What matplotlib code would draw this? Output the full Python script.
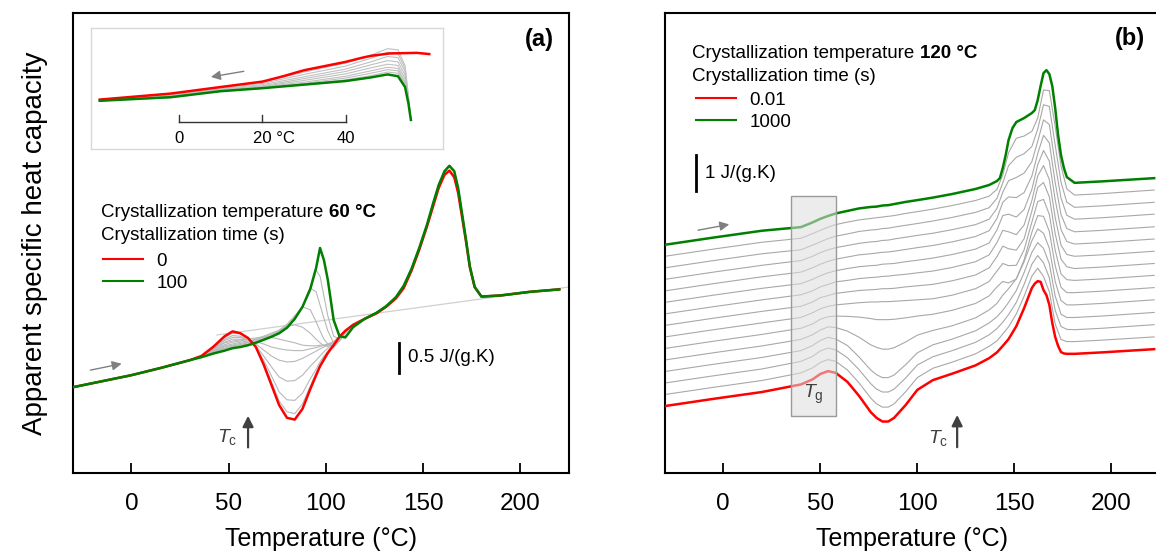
import matplotlib
matplotlib.use('Agg')
from matplotlib import pyplot as plt
from matplotlib.lines import Line2D
from matplotlib.patches import Rectangle

plt.rcParams['font.family'] = ['Liberation Sans', 'DejaVu Sans']
plt.rcParams['mathtext.fontset'] = 'custom'
plt.rcParams['mathtext.rm'] = 'Liberation Sans'
plt.rcParams['mathtext.it'] = 'Liberation Sans:italic'
plt.rcParams['mathtext.bf'] = 'Liberation Sans:bold'

RED = '#ff0000'
GREEN = '#008000'

# ---------------- panel (a): Tc = 60 C, times 0 ... 100 s ----------------
a_T_low = [-30, -15, 0, 15, 30]
a_cp_low = [1.43, 1.53, 1.63, 1.75, 1.88]

a_T_mid = [36, 42, 48, 52, 56, 60, 64, 68, 72, 76, 80, 84, 88, 92, 95, 97, 99, 101, 104, 107, 110, 114]
a_red_mid = [1.95, 2.10, 2.28, 2.36, 2.33, 2.25, 2.10, 1.81, 1.47, 1.13, 0.92, 0.89, 1.07, 1.40, 1.63, 1.78, 1.89, 2.00, 2.13, 2.27, 2.37, 2.47]
a_green_mid = [1.93, 1.99, 2.04, 2.08, 2.10, 2.13, 2.17, 2.22, 2.27, 2.33, 2.42, 2.57, 2.77, 3.07, 3.42, 3.75, 3.55, 3.22, 2.55, 2.28, 2.26, 2.43]
a_grey_mid = [
    [1.95, 2.09, 2.26, 2.33, 2.32, 2.24, 2.10, 1.83, 1.52, 1.20, 1.02, 0.99, 1.15, 1.45, 1.67, 1.80, 1.92, 2.02, 2.14, 2.27, 2.37, 2.47],
    [1.95, 2.08, 2.23, 2.29, 2.28, 2.23, 2.10, 1.88, 1.62, 1.35, 1.22, 1.21, 1.33, 1.57, 1.73, 1.85, 1.95, 2.03, 2.15, 2.27, 2.37, 2.47],
    [1.95, 2.08, 2.21, 2.26, 2.26, 2.22, 2.12, 1.95, 1.77, 1.60, 1.53, 1.54, 1.63, 1.78, 1.88, 1.95, 2.02, 2.08, 2.16, 2.27, 2.37, 2.47],
    [1.94, 2.07, 2.18, 2.23, 2.23, 2.22, 2.15, 2.05, 1.95, 1.88, 1.85, 1.86, 1.91, 1.98, 2.03, 2.07, 2.10, 2.13, 2.18, 2.27, 2.37, 2.47],
    [1.94, 2.06, 2.17, 2.20, 2.22, 2.22, 2.19, 2.15, 2.10, 2.07, 2.05, 2.04, 2.04, 2.07, 2.09, 2.11, 2.13, 2.14, 2.18, 2.27, 2.37, 2.47],
    [1.94, 2.05, 2.14, 2.18, 2.20, 2.23, 2.25, 2.27, 2.26, 2.23, 2.20, 2.17, 2.13, 2.12, 2.12, 2.13, 2.13, 2.15, 2.19, 2.27, 2.37, 2.47],
    [1.94, 2.03, 2.12, 2.15, 2.18, 2.20, 2.23, 2.28, 2.33, 2.38, 2.44, 2.47, 2.43, 2.33, 2.23, 2.17, 2.12, 2.11, 2.18, 2.27, 2.37, 2.47],
    [1.93, 2.03, 2.10, 2.13, 2.16, 2.18, 2.22, 2.26, 2.31, 2.38, 2.48, 2.62, 2.77, 2.72, 2.52, 2.37, 2.23, 2.15, 2.09, 2.20, 2.33, 2.47],
    [1.93, 2.02, 2.08, 2.12, 2.14, 2.17, 2.20, 2.24, 2.29, 2.36, 2.45, 2.58, 2.78, 3.08, 3.02, 2.80, 2.58, 2.37, 2.17, 2.20, 2.33, 2.47],
    [1.93, 2.01, 2.07, 2.10, 2.13, 2.15, 2.18, 2.23, 2.28, 2.34, 2.43, 2.56, 2.77, 3.03, 3.38, 3.28, 2.95, 2.62, 2.28, 2.23, 2.37, 2.45],
]

a_T_high = [120, 126, 131, 136, 140, 144, 148, 152, 155, 158, 161, 163.5, 166, 168, 170, 172, 174, 176.5, 180, 190, 205, 220]
a_red_high = [2.57, 2.66, 2.77, 2.91, 3.08, 3.37, 3.72, 4.11, 4.43, 4.75, 4.97, 5.04, 4.93, 4.67, 4.27, 3.87, 3.43, 3.10, 2.94, 2.96, 3.02, 3.06]
a_green_high = [2.57, 2.67, 2.78, 2.93, 3.12, 3.40, 3.75, 4.14, 4.48, 4.80, 5.03, 5.12, 5.03, 4.75, 4.33, 3.90, 3.45, 3.10, 2.94, 2.96, 3.02, 3.06]

a_base_T = [44, 225]
a_base_cp = [2.30, 3.10]

# inset of (a): cooling traces
ins_red_T = [-19, -2, 10, 20, 25, 30, 35, 40, 44, 46, 50.5, 57, 60]
ins_red = [0.83, 0.93, 1.04, 1.13, 1.22, 1.32, 1.39, 1.46, 1.53, 1.56, 1.60, 1.61, 1.59]
ins_T = [-19, -2, 10, 20, 30, 40, 46, 50, 52.5, 54.2, 55, 55.6]
ins_green = [0.81, 0.87, 0.97, 1.02, 1.08, 1.14, 1.20, 1.25, 1.22, 1.04, 0.77, 0.49]
ins_grey = [
    [0.83, 0.93, 1.03, 1.12, 1.29, 1.44, 1.57, 1.68, 1.66, 1.40, 0.90, 0.49],
    [0.82, 0.92, 1.02, 1.10, 1.25, 1.39, 1.52, 1.62, 1.60, 1.35, 0.87, 0.49],
    [0.82, 0.91, 1.01, 1.08, 1.21, 1.34, 1.46, 1.55, 1.53, 1.30, 0.85, 0.49],
    [0.82, 0.90, 1.00, 1.06, 1.18, 1.30, 1.41, 1.48, 1.46, 1.24, 0.83, 0.49],
    [0.81, 0.89, 0.99, 1.05, 1.15, 1.26, 1.36, 1.42, 1.40, 1.18, 0.81, 0.49],
    [0.81, 0.88, 0.98, 1.04, 1.12, 1.22, 1.31, 1.37, 1.35, 1.13, 0.80, 0.49],
    [0.81, 0.87, 0.98, 1.03, 1.10, 1.19, 1.27, 1.33, 1.31, 1.10, 0.79, 0.49],
    [0.81, 0.86, 0.97, 1.03, 1.09, 1.16, 1.23, 1.29, 1.27, 1.07, 0.78, 0.49],
]

# ---------------- panel (b): Tc = 120 C, times 0.01 ... 1000 s ----------------
# raw curves, shifted by b_shift per curve for display
b_shift = 0.32
b_T_glass = [-30, -5, 20]
b_cp_glass = [1.86, 2.06, 2.25]
b_T = [40, 46, 50, 54, 58, 64, 70, 76, 79, 82, 85, 88, 94, 100, 108, 118,
       130, 137, 141, 144, 147, 151, 155, 159, 162, 165, 168, 171, 174, 177, 181, 195, 222]
b_T_red = [40, 46, 50, 54, 58, 64, 70, 76, 79, 82, 85, 88, 94, 100, 108, 118,
           130, 137, 141, 144, 147, 151, 155, 159, 160.5, 162, 163.5, 165, 166.5, 168, 169.5,
           171, 172.5, 174, 175.5, 177, 181, 195, 222]
b_red = [2.46, 2.60, 2.75, 2.83, 2.78, 2.53, 2.14, 1.69, 1.53, 1.43, 1.43, 1.53, 1.89, 2.31, 2.58, 2.76,
         2.99, 3.19, 3.35, 3.53, 3.72, 4.08, 4.58, 5.14, 5.26, 5.33, 5.31, 5.08, 4.94, 4.67, 4.17,
         3.78, 3.53, 3.36, 3.32, 3.31, 3.31, 3.35, 3.44]
b_grey = [
    [2.46, 2.60, 2.75, 2.83, 2.78, 2.54, 2.18, 1.76, 1.60, 1.51, 1.51, 1.60, 1.94, 2.33, 2.59, 2.76,
     2.99, 3.20, 3.35, 3.54, 3.74, 4.10, 4.59, 5.15, 5.37, 5.14, 4.71, 3.82, 3.39, 3.33, 3.33, 3.37, 3.46],
    [2.46, 2.60, 2.75, 2.83, 2.78, 2.56, 2.23, 1.84, 1.69, 1.61, 1.61, 1.69, 2.00, 2.36, 2.59, 2.76,
     2.99, 3.20, 3.37, 3.55, 3.76, 4.10, 4.60, 5.16, 5.40, 5.20, 4.78, 3.88, 3.43, 3.35, 3.34, 3.38, 3.48],
    [2.44, 2.58, 2.72, 2.81, 2.76, 2.58, 2.26, 1.90, 1.77, 1.69, 1.69, 1.76, 2.05, 2.38, 2.60, 2.76,
     2.99, 3.21, 3.38, 3.56, 3.78, 4.11, 4.61, 5.17, 5.44, 5.28, 4.85, 3.96, 3.45, 3.36, 3.36, 3.40, 3.50],
    [2.43, 2.56, 2.69, 2.78, 2.76, 2.66, 2.49, 2.28, 2.21, 2.16, 2.16, 2.20, 2.36, 2.55, 2.68, 2.81,
     3.03, 3.25, 3.43, 3.66, 3.84, 4.12, 4.59, 5.17, 5.50, 5.38, 4.96, 4.04, 3.51, 3.39, 3.39, 3.43, 3.53],
    [2.42, 2.54, 2.67, 2.74, 2.76, 2.75, 2.73, 2.69, 2.66, 2.66, 2.66, 2.67, 2.71, 2.76, 2.81, 2.92,
     3.11, 3.32, 3.57, 3.72, 3.68, 3.79, 4.32, 5.09, 5.55, 5.53, 5.11, 4.16, 3.56, 3.41, 3.41, 3.45, 3.55],
    [2.40, 2.53, 2.64, 2.71, 2.75, 2.78, 2.81, 2.83, 2.83, 2.84, 2.84, 2.85, 2.87, 2.89, 2.92, 3.02,
     3.20, 3.40, 3.69, 3.90, 3.84, 3.85, 4.28, 5.05, 5.62, 5.68, 5.26, 4.27, 3.61, 3.45, 3.43, 3.47, 3.57],
    [2.39, 2.51, 2.63, 2.69, 2.75, 2.79, 2.83, 2.85, 2.86, 2.88, 2.88, 2.89, 2.93, 2.96, 3.00, 3.10,
     3.26, 3.46, 3.77, 4.06, 3.99, 3.95, 4.27, 5.04, 5.69, 5.83, 5.43, 4.41, 3.70, 3.49, 3.44, 3.48, 3.58],
    [2.39, 2.50, 2.61, 2.68, 2.75, 2.79, 2.84, 2.87, 2.88, 2.90, 2.91, 2.93, 2.96, 3.00, 3.05, 3.15,
     3.31, 3.50, 3.84, 4.18, 4.14, 4.06, 4.33, 5.01, 5.69, 5.98, 5.59, 4.54, 3.77, 3.51, 3.46, 3.50, 3.60],
    [2.38, 2.50, 2.60, 2.68, 2.74, 2.80, 2.85, 2.88, 2.89, 2.92, 2.93, 2.94, 2.99, 3.03, 3.09, 3.19,
     3.34, 3.51, 3.87, 4.27, 4.31, 4.23, 4.44, 5.00, 5.68, 6.08, 5.78, 4.71, 3.88, 3.55, 3.48, 3.52, 3.62],
    [2.38, 2.50, 2.60, 2.68, 2.74, 2.80, 2.86, 2.89, 2.91, 2.93, 2.94, 2.96, 3.01, 3.06, 3.12, 3.22,
     3.37, 3.53, 3.87, 4.32, 4.47, 4.45, 4.59, 5.05, 5.67, 6.18, 5.97, 4.87, 3.98, 3.59, 3.50, 3.54, 3.64],
    [2.38, 2.50, 2.60, 2.68, 2.74, 2.80, 2.86, 2.90, 2.91, 2.94, 2.95, 2.98, 3.03, 3.08, 3.14, 3.24,
     3.38, 3.53, 3.83, 4.28, 4.60, 4.69, 4.81, 5.13, 5.69, 6.29, 6.16, 5.06, 4.12, 3.64, 3.53, 3.57, 3.67],
    [2.36, 2.49, 2.58, 2.67, 2.74, 2.80, 2.87, 2.91, 2.92, 2.95, 2.96, 2.99, 3.04, 3.09, 3.16, 3.26,
     3.40, 3.53, 3.79, 4.22, 4.70, 4.93, 5.03, 5.23, 5.71, 6.39, 6.34, 5.27, 4.24, 3.68, 3.54, 3.58, 3.68],
    [2.36, 2.49, 2.58, 2.67, 2.74, 2.81, 2.87, 2.91, 2.93, 2.95, 2.97, 2.99, 3.05, 3.10, 3.17, 3.27,
     3.41, 3.53, 3.72, 4.12, 4.74, 5.14, 5.20, 5.33, 5.70, 6.48, 6.46, 5.47, 4.37, 3.73, 3.56, 3.60, 3.70],
]
b_T_green = [40, 46, 50, 54, 58, 64, 70, 76, 79, 82, 85, 88, 94, 100, 108, 118,
             130, 137, 141, 142.5, 144, 145.5, 147, 149, 151, 155, 159, 160.5, 162, 163.5, 165,
             166.5, 168, 169.5, 171, 172.5, 174, 175.5, 177, 181, 195, 222]
b_green = [2.35, 2.48, 2.58, 2.66, 2.73, 2.80, 2.87, 2.91, 2.92, 2.95, 2.96, 2.99, 3.05, 3.10, 3.17, 3.27,
           3.41, 3.52, 3.63, 3.71, 3.99, 4.35, 4.77, 5.10, 5.27, 5.38, 5.52, 5.60, 5.88, 6.27, 6.63,
           6.71, 6.60, 6.27, 5.66, 4.91, 4.35, 3.99, 3.74, 3.58, 3.62, 3.71]

a_scale = 0.5
b_scale = 1.0

fig = plt.figure(figsize=(11.56, 5.53), dpi=100)
W, H = 1156.0, 553.0
ax1 = fig.add_axes([73 / W, 80 / H, 496 / W, 460 / H])
ax2 = fig.add_axes([665 / W, 80 / H, 495 / W, 460 / H])

for ax in (ax1, ax2):
    ax.set_xlim(-30, 225)
    ax.set_xticks([0, 50, 100, 150, 200])
    ax.set_yticks([])
    ax.tick_params(axis='x', direction='in', length=7, width=1.3, pad=14.5, labelsize=17.5)
    for s in ax.spines.values():
        s.set_linewidth(1.5)
    ax.set_xlabel('Temperature (°C)', fontsize=18, labelpad=8.5)

ax1.set_ylim(0, 460 / 60.)
ax2.set_ylim(0, 460 / 36.)

# ---- (a)
ax1.plot(a_base_T, a_base_cp, color='#d0d0d0', lw=0.9, zorder=1)
T_a = a_T_low + a_T_mid + a_T_high
for g in a_grey_mid:
    ax1.plot(T_a, a_cp_low + g + a_green_high, color='#b8b8b8', lw=0.8, zorder=2)
ax1.plot(T_a, a_cp_low + a_red_mid + a_red_high, color=RED, lw=1.8, zorder=3)
ax1.plot(T_a, a_cp_low + a_green_mid + a_green_high, color=GREEN, lw=1.8, zorder=4)

ax1.annotate('', xy=(-3.6, 1.83), xytext=(-22.5, 1.705),
             arrowprops=dict(arrowstyle='-|>', color='#808080', lw=1, mutation_scale=14))
ax1.annotate('', xy=(60, 1.0), xytext=(60, 0.38),
             arrowprops=dict(arrowstyle='-|>', color='#404040', lw=1.6, mutation_scale=16))
ax1.text(49.5, 0.6, r'$T_\mathrm{c}$', color='#404040', fontsize=14, ha='center', va='center')
ax1.plot([137.6, 137.6], [1.667, 1.667 + a_scale], color='k', lw=2)
ax1.text(142.3, 1.917, '0.5 J/(g.K)', fontsize=13.5, va='center', ha='left')
ax1.text(0.97, 0.943, '(a)', transform=ax1.transAxes, ha='right', va='center',
         fontsize=17, fontweight='bold')


def header(ax, x, y, plain, bold):
    t = ax.text(x, y, plain, transform=ax.transAxes, fontsize=13.5, va='center', ha='left')
    ax.annotate(bold, xy=(1, 0), xycoords=t, xytext=(3.8, 0), textcoords='offset points',
                va='bottom', ha='left', fontsize=13.5, fontweight='bold')
    return t


header(ax1, 0.0565, 0.567, 'Crystallization temperature', '60 °C')
ax1.text(0.0565, 0.517, 'Crystallization time (s)', transform=ax1.transAxes, fontsize=13.5,
         va='center', ha='left')
ax1.legend([Line2D([], [], color=RED, lw=1.5), Line2D([], [], color=GREEN, lw=1.5)], ['0', '100'],
           loc='upper left', bbox_to_anchor=(0.0605, 0.479), frameon=False, fontsize=13.5,
           handlelength=2.15, handletextpad=0.7, labelspacing=0.26, borderpad=0, borderaxespad=0)

# inset
axi = fig.add_axes([91 / W, (H - 149.3) / H, 352 / W, 121 / H])
axi.set_xlim(-21.1, 63.3)
axi.set_ylim(0, 2.02)
axi.set_xticks([])
axi.set_yticks([])
for s in axi.spines.values():
    s.set_color('#d8d8d8')
    s.set_linewidth(1)
for g in ins_grey:
    axi.plot(ins_T, g, color='#c0c0c0', lw=0.8)
axi.plot(ins_red_T, ins_red, color=RED, lw=1.8)
axi.plot(ins_T, ins_green, color=GREEN, lw=1.8)
axi.annotate('', xy=(7.0, 1.20), xytext=(16.2, 1.31),
             arrowprops=dict(arrowstyle='-|>', color='#808080', lw=1, mutation_scale=14))
axi.plot([0, 40], [0.46, 0.46], color='#333333', lw=1)
for tx in (0, 20, 40):
    axi.plot([tx, tx], [0.46, 0.58], color='#333333', lw=1)
axi.text(0, 0.18, '0', fontsize=12, ha='center', va='center')
axi.text(17.7, 0.18, '20 °C', fontsize=12, ha='left', va='center')
axi.text(40, 0.18, '40', fontsize=12, ha='center', va='center')

# ---- (b)
T_b = b_T_glass + b_T
for k, g in enumerate(b_grey, start=1):
    ax2.plot(T_b, [v + k * b_shift for v in b_cp_glass + g], color='#a8a8a8', lw=0.8, zorder=2)
ax2.plot(b_T_glass + b_T_red, b_cp_glass + b_red, color=RED, lw=1.8, zorder=3)
n = len(b_grey) + 1
ax2.plot(b_T_glass + b_T_green, [v + n * b_shift for v in b_cp_glass + b_green],
         color=GREEN, lw=1.8, zorder=3)

ax2.add_patch(Rectangle((35, 1.58), 23, 6.11, facecolor=(0.87, 0.87, 0.87, 0.55),
                        edgecolor='#9a9a9a', lw=1, zorder=5))
ax2.text(46.5, 2.17, r'$T_\mathrm{g}$', color='#404040', fontsize=14, ha='center', va='center', zorder=6)
ax2.annotate('', xy=(120.5, 1.69), xytext=(120.5, 0.64),
             arrowprops=dict(arrowstyle='-|>', color='#404040', lw=1.6, mutation_scale=16))
ax2.text(110.7, 0.97, r'$T_\mathrm{c}$', color='#404040', fontsize=14, ha='center', va='center')
ax2.annotate('', xy=(4.5, 6.92), xytext=(-14.4, 6.73),
             arrowprops=dict(arrowstyle='-|>', color='#808080', lw=1, mutation_scale=14))
ax2.plot([-13.9, -13.9], [7.83, 7.83 + b_scale], color='k', lw=2)
ax2.text(-9.3, 8.33, '1 J/(g.K)', fontsize=13.5, va='center', ha='left')
ax2.text(0.97, 0.944, '(b)', transform=ax2.transAxes, ha='right', va='center',
         fontsize=17, fontweight='bold')

header(ax2, 0.0545, 0.913, 'Crystallization temperature', '120 °C')
ax2.text(0.0545, 0.863, 'Crystallization time (s)', transform=ax2.transAxes, fontsize=13.5,
         va='center', ha='left')
ax2.legend([Line2D([], [], color=RED, lw=1.5), Line2D([], [], color=GREEN, lw=1.5)], ['0.01', '1000'],
           loc='upper left', bbox_to_anchor=(0.0626, 0.8285), frameon=False, fontsize=13.5,
           handlelength=2.15, handletextpad=0.7, labelspacing=0.26, borderpad=0, borderaxespad=0)

fig.text(35 / W, 1 - 243 / H, 'Apparent specific heat capacity', rotation=90,
         va='center', ha='center', fontsize=20)

fig.savefig('out.png', dpi=100)
